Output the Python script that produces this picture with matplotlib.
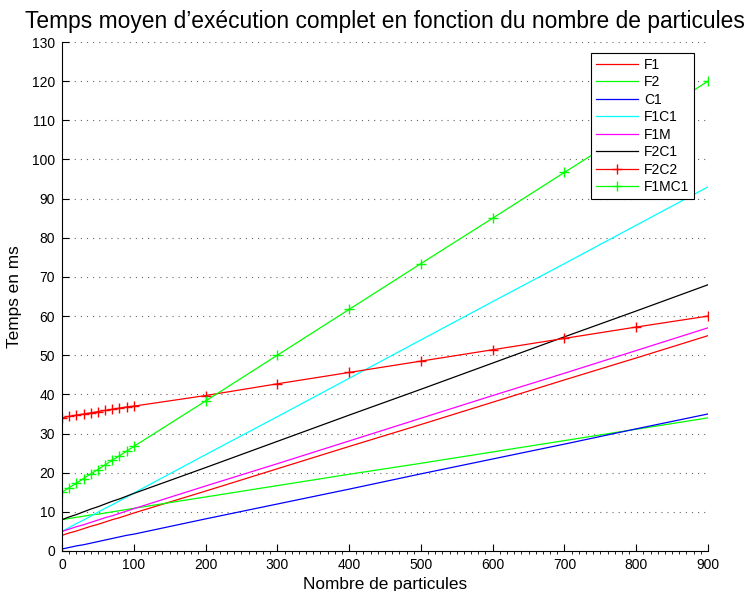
import matplotlib
matplotlib.use("Agg")
import matplotlib.pyplot as plt
from matplotlib.ticker import MultipleLocator

plt.rcParams['font.family'] = ['Liberation Sans', 'DejaVu Sans']

particles = [0, 10, 20, 30, 40, 50, 60, 70, 80, 90, 100, 200, 300, 400, 500, 600, 700, 800, 900]

F1 = [4, 4.6, 5.1, 5.7, 6.3, 6.8, 7.4, 8.0, 8.5, 9.1, 9.7, 15.3, 21, 26.7, 32.3, 38, 43.7, 49.3, 55]
F2 = [8, 8.3, 8.6, 8.9, 9.2, 9.4, 9.7, 10, 10.3, 10.6, 10.9, 13.8, 16.7, 19.6, 22.4, 25.3, 28.2, 31.1, 34]
C1 = [0.5, 0.9, 1.3, 1.6, 2.0, 2.4, 2.8, 3.2, 3.6, 4.0, 4.3, 8.2, 12, 15.8, 19.7, 23.5, 27.3, 31.2, 35]
F1C1 = [5, 6, 7, 7.9, 8.9, 9.9, 10.9, 11.8, 12.8, 13.8, 14.8, 24.6, 34.3, 44.1, 53.9, 63.7, 73.4, 83.2, 93]
F1M = [5, 5.6, 6.2, 6.7, 7.3, 7.9, 8.5, 9, 9.6, 10.2, 10.8, 16.6, 22.3, 28.1, 33.9, 39.7, 45.4, 51.2, 57]
F2C1 = [8, 8.7, 9.3, 10, 10.7, 11.3, 12, 12.7, 13.3, 14, 14.7, 21.3, 28, 34.7, 41.3, 48, 54.7, 61.3, 68]
F2C2 = [34, 34.4, 34.7, 35, 35.3, 35.6, 35.9, 36.2, 36.5, 36.8, 37, 39.7, 42.7, 45.6, 48.5, 51.4, 54.3, 57.2, 60]
F1MC1 = [15, 16.2, 17.3, 18.5, 19.7, 20.8, 22, 23.2, 24.3, 25.5, 26.7, 38.3, 50, 61.7, 73.4, 85, 96.7, 108.3, 120]

series = [
    ("F1", F1, "#ff0000", None),
    ("F2", F2, "#00ff00", None),
    ("C1", C1, "#0000ff", None),
    ("F1C1", F1C1, "#00ffff", None),
    ("F1M", F1M, "#ff00ff", None),
    ("F2C1", F2C1, "#000000", None),
    ("F2C2", F2C2, "#ff0000", "+"),
    ("F1MC1", F1MC1, "#00ff00", "+"),
]

fig = plt.figure(figsize=(7.54, 5.91), dpi=100)
ax = fig.add_axes([62/754, 40/591, (708-62)/754, (551-42)/591])

for name, vals, col, mk in series:
    ax.plot(particles, vals, color=col, lw=0.9, marker=mk, markersize=6.5,
            markeredgewidth=1.0, label=name)

ax.set_xlim(0, 900)
ax.set_ylim(0, 130)
ax.xaxis.set_major_locator(MultipleLocator(100))
ax.xaxis.set_minor_locator(MultipleLocator(10))
ax.yaxis.set_major_locator(MultipleLocator(10))
ax.spines['top'].set_visible(False)
ax.spines['right'].set_visible(False)
for s in ('left', 'bottom'):
    ax.spines[s].set_linewidth(0.8)
ax.tick_params(which='major', direction='in', length=5, width=0.8, labelsize=10, pad=5)
ax.tick_params(axis='x', which='minor', direction='out', length=2.5, width=0.6)
ax.tick_params(axis='y', which='minor', left=False)
ax.yaxis.grid(True, linestyle=(0, (1, 4.5)), color='#666666', linewidth=0.8)
ax.set_axisbelow(True)

ax.set_title("Temps moyen d\u2019exécution complet en fonction du nombre de particules",
             fontsize=16.4, pad=10)
ax.set_xlabel("Nombre de particules", fontsize=12.4, labelpad=4)
ax.set_ylabel("Temps en ms", fontsize=12.4, labelpad=7)

leg = ax.legend(loc='upper right', bbox_to_anchor=((694-62)/646, 1 - 11/509), bbox_transform=ax.transAxes,
                fontsize=10, frameon=True, fancybox=False, borderpad=0.35, labelspacing=0.25,
                handlelength=3.0, handletextpad=0.45, borderaxespad=0)
leg.get_frame().set_edgecolor('black')
leg.get_frame().set_linewidth(0.8)
leg.get_frame().set_alpha(1)

fig.savefig("out.png", dpi=100)
